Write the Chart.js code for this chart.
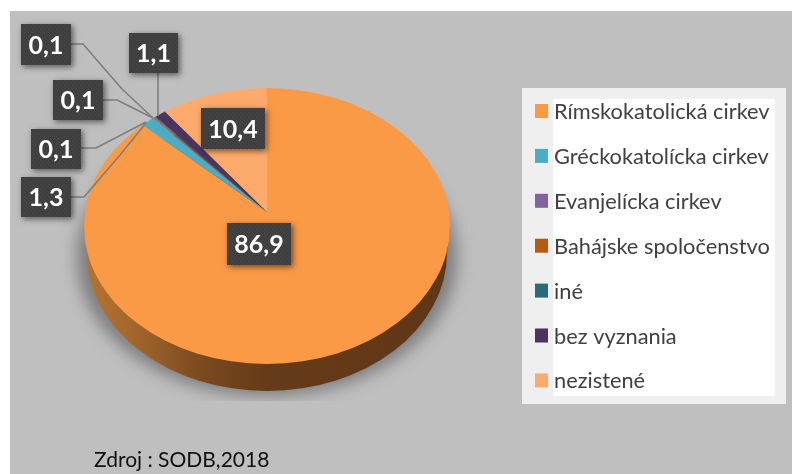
<!DOCTYPE html>
<html><head><meta charset="utf-8">
<style>html,body{margin:0;padding:0;background:#fff}canvas{display:block}</style>
<script src="https://cdn.jsdelivr.net/npm/chart.js@4"></script>
</head><body>
<div style="width:792px;height:474px;position:relative"><canvas id="c" width="792" height="474"></canvas></div>
<script>
const categories = ["Rímskokatolická cirkev","Gréckokatolícka cirkev","Evanjelícka cirkev","Bahájske spoločenstvo","iné","bez vyznania","nezistené"];
const values = [86.9,1.3,0.1,0.1,0.1,1.1,10.4];
const colors = ["#fb9a46","#4bacc6","#8064a2","#b85a0c","#276a7c","#4a3561","#fcab6c"];
const sourceText = "Zdroj : SODB,2018";

const FONT = 'Lato, Carlito, sans-serif';
const E = {cx:267, cy:226, rx:183, ry:138, ax:267, ay:212, depth:27};
const K = E.ry/E.rx;
// data-label boxes [index, left, top, right, bottom], with leader polylines
const boxes = [
  [0,227,223,291,265,null],
  [6,201,108,265,149,null],
  [5,129,33,178,73,[[158,73],[158,116]]],
  [2,21,24,71,65,[[71,44],[83,44],[122,89],[153,118]]],
  [3,53,80,103,120,[[103,100],[117,100],[153,118]]],
  [4,31,129,81,169,[[81,148],[96,148],[146,122]]],
  [1,21,177,71,217,[[71,197],[84,197],[120,155],[146,123]]]
];
function ellipsePath(ctx,cx,cy,rx,ry){ctx.beginPath();ctx.ellipse(cx,cy,rx,ry,0,0,Math.PI*2);ctx.closePath();}
function texture(ctx){
  const p=document.createElement('canvas');p.width=p.height=4;
  const g=p.getContext('2d');g.fillStyle='#3f3f3f';g.fillRect(0,0,4,4);
  g.fillStyle='#4a4a4a';g.fillRect(0,0,1,1);g.fillRect(2,2,1,1);
  return ctx.createPattern(p,'repeat');
}
const scene = {
  id:'scene',
  beforeDatasetsDraw(chart){
    const ctx=chart.ctx, arc=chart.getDatasetMeta(0).data[0];
    // plate
    ctx.save();
    ctx.fillStyle='#bfbfbf';ctx.fillRect(10,11,782,463);
    // soft shadow under the pie, stopping at a hard lower edge
    ctx.save();
    ctx.beginPath();ctx.rect(0,0,792,401);ctx.clip();
    ctx.shadowColor='#7d7d7d';ctx.shadowBlur=16;ctx.shadowOffsetX=2000;ctx.shadowOffsetY=0;
    ctx.fillStyle='#000';
    ellipsePath(ctx,E.cx-2000,E.cy+E.depth+4,E.rx+7,E.ry+1);ctx.fill();
    ctx.restore();
    // side wall
    const g=ctx.createLinearGradient(E.cx-E.rx,0,E.cx+E.rx,0);
    g.addColorStop(0,'#b5732f');g.addColorStop(.12,'#a5682c');g.addColorStop(.32,'#7b4a20');
    g.addColorStop(.5,'#663b18');g.addColorStop(1,'#5f3617');
    ctx.fillStyle=g;
    ellipsePath(ctx,E.cx,E.cy+E.depth,E.rx-3,E.ry);ctx.fill();
    ctx.beginPath();ctx.moveTo(E.cx-E.rx,E.cy);ctx.lineTo(E.cx+E.rx,E.cy);
    ctx.lineTo(E.cx+E.rx-3,E.cy+E.depth);ctx.lineTo(E.cx-E.rx+3,E.cy+E.depth);ctx.closePath();ctx.fill();
    ctx.restore();
    // the slices: arcs are drawn by the library, squashed and clipped to the top ellipse
    ctx.save();
    ellipsePath(ctx,E.cx,E.cy,E.rx,E.ry);ctx.clip();
    ctx.translate(E.ax,E.ay);ctx.scale(1,K);ctx.translate(-arc.x,-arc.y);
  },
  afterDatasetsDraw(chart){
    const ctx=chart.ctx;
    ctx.restore();
    // leader lines
    ctx.save();
    ctx.strokeStyle='#7f7f7f';ctx.lineWidth=1.6;ctx.lineJoin='round';
    boxes.forEach(b=>{ if(!b[5])return; ctx.beginPath();b[5].forEach((p,i)=>i?ctx.lineTo(p[0],p[1]):ctx.moveTo(p[0],p[1]));ctx.stroke();});
    ctx.restore();
    // value labels
    const pat=texture(ctx);
    boxes.forEach(b=>{
      ctx.save();
      ctx.shadowColor='rgba(0,0,0,.55)';ctx.shadowBlur=6;ctx.shadowOffsetX=2;ctx.shadowOffsetY=2;
      ctx.fillStyle='#3f3f3f';ctx.fillRect(b[1],b[2],b[3]-b[1],b[4]-b[2]);
      ctx.restore();
      ctx.fillStyle=pat;ctx.fillRect(b[1],b[2],b[3]-b[1],b[4]-b[2]);
      ctx.fillStyle='#fff';ctx.font='bold 25px '+FONT;ctx.textAlign='center';ctx.textBaseline='middle';
      ctx.fillText(String(values[b[0]]).replace('.',','),(b[1]+b[3])/2,(b[2]+b[4])/2+1);
    });
    // legend
    ctx.fillStyle='#efefef';ctx.fillRect(522,88,264,316);
    ctx.fillStyle='#fff';ctx.fillRect(553,99,222,297);
    ctx.textAlign='left';ctx.textBaseline='middle';ctx.font='21.8px '+FONT;
    categories.forEach((t,i)=>{
      const y=111+i*44.9;
      ctx.fillStyle=colors[i];ctx.fillRect(535,y-7,13,14);
      ctx.fillStyle='#404040';ctx.fillText(t,554,y+1);
    });
    // source
    ctx.fillStyle='#111';ctx.font='21px '+FONT;ctx.textBaseline='alphabetic';
    ctx.fillText(sourceText,94,467);
  }
};
new Chart(document.getElementById('c'),{
  type:'pie',
  data:{labels:categories,datasets:[{data:values,backgroundColor:colors,borderWidth:0,clip:false}]},
  options:{responsive:false,animation:false,events:[],
    layout:{padding:{left:57,right:315,top:27,bottom:27}},
    plugins:{legend:{display:false},tooltip:{enabled:false}}},
  plugins:[scene]
});
</script>
</body></html>
